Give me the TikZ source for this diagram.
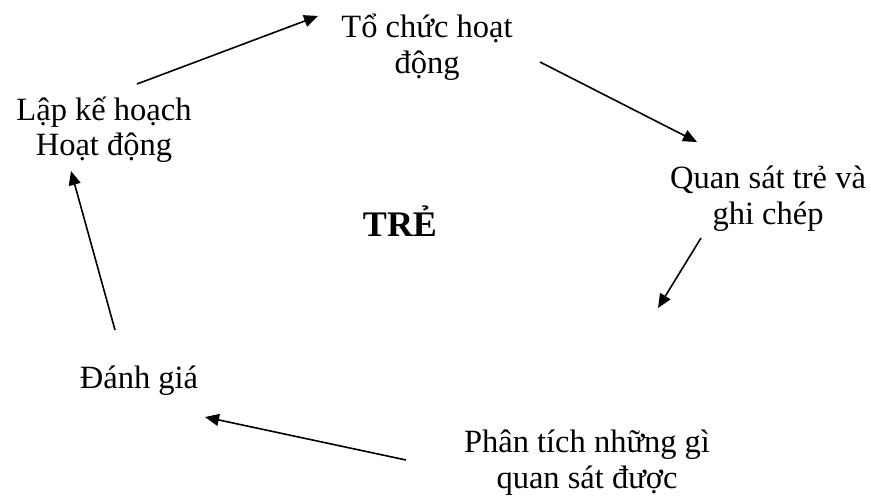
\documentclass[tikz,border=0pt]{standalone}
\usepackage{fontspec}
\setmainfont{Liberation Serif}
\usetikzlibrary{arrows.meta}
\tikzset{
  label text/.style={anchor=base, inner sep=0pt, font=\fontsize{32.5}{36}\selectfont},
  title text/.style={anchor=base, inner sep=0pt, font=\fontsize{36}{36}\selectfont\bfseries},
  cycle arrow/.style={line width=1.6pt, -{Triangle[length=14pt,width=12pt]}}
}
\begin{document}
\begin{tikzpicture}[x=1pt,y=-1pt]
  \useasboundingbox (0,0) rectangle (871,498);
  % stage labels, one node per printed line
  \node[label text] (orgA)  at (427,37)  {Tổ chức hoạt};
  \node[label text] (orgB)  at (427,73)  {động};
  \node[label text] (obsA)  at (768,188) {Quan sát trẻ và};
  \node[label text] (obsB)  at (768,224) {ghi chép};
  \node[label text] (anaA)  at (587,452) {Phân tích những gì};
  \node[label text] (anaB)  at (587,488) {quan sát được};
  \node[label text] (eval)  at (139,388) {Đánh giá};
  \node[label text] (planA) at (104,120) {Lập kế hoạch};
  \node[label text] (planB) at (104,155) {Hoạt động};
  \node[title text] (child) at (400,236) {TRẺ};
  % connector end points around the cycle
  \coordinate (p1s) at (137,84);  \coordinate (p1e) at (318,16);
  \coordinate (p2s) at (540,62);  \coordinate (p2e) at (697,142);
  \coordinate (p3s) at (701,238); \coordinate (p3e) at (658,308);
  \coordinate (p4s) at (406,460); \coordinate (p4e) at (205,417);
  \coordinate (p5s) at (115,330); \coordinate (p5e) at (71,171);
  \draw[cycle arrow] (p1s) -- (p1e);
  \draw[cycle arrow] (p2s) -- (p2e);
  \draw[cycle arrow] (p3s) -- (p3e);
  \draw[cycle arrow] (p4s) -- (p4e);
  \draw[cycle arrow] (p5s) -- (p5e);
\end{tikzpicture}
\end{document}
